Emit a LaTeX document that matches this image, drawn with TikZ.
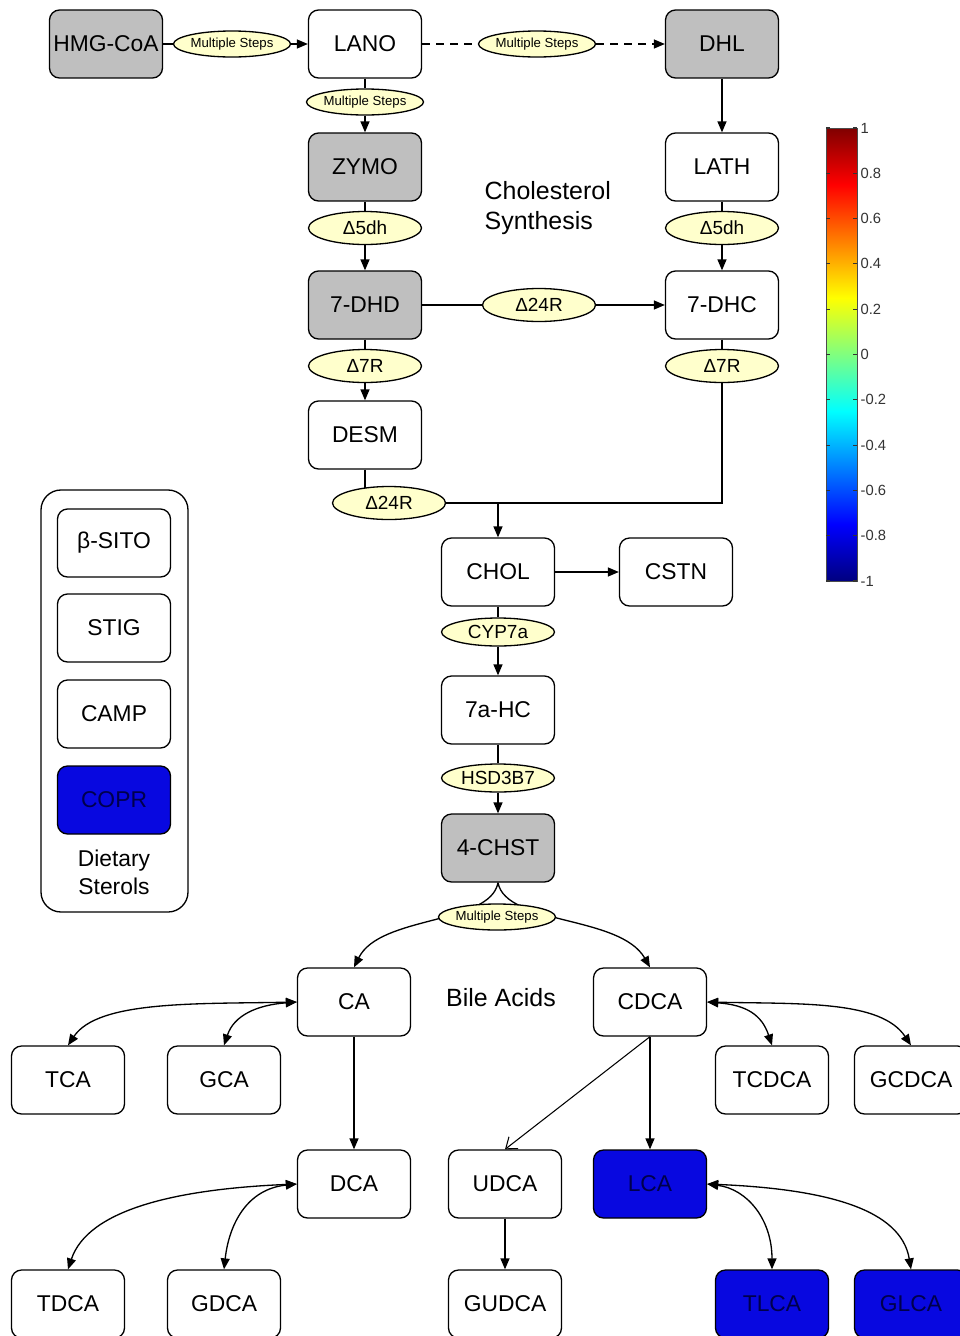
\documentclass[tikz,border=0pt]{standalone}
\usepackage{fontspec}
\setmainfont{Liberation Sans}
\usetikzlibrary{arrows.meta,shapes.geometric,backgrounds}
\definecolor{enzyme}{RGB}{255,255,204}
\definecolor{lowblue}{RGB}{8,8,224}
\pgfdeclareverticalshading{jet}{100bp}{rgb(0bp)=(0,0,0.5); rgb(25bp)=(0,0,0.5); rgb(31.25bp)=(0,0,1); rgb(43.75bp)=(0,1,1); rgb(56.25bp)=(1,1,0); rgb(68.75bp)=(1,0,0); rgb(75bp)=(0.5,0,0); rgb(100bp)=(0.5,0,0)}
\begin{document}
\begin{tikzpicture}[x=0.02cm,y=-0.02cm,line width=0.75pt,
  box/.style={draw,rounded corners=0.2cm,minimum width=2.26cm,minimum height=1.36cm,inner sep=0pt,font=\fontsize{13}{15}\selectfont},
  gbox/.style={box,fill=black!25},
  bbox/.style={box,fill=lowblue,text=blue!30!black},
  enz/.style={draw,ellipse,fill=enzyme,inner sep=0pt,minimum width=2.26cm,minimum height=0.66cm,font=\fontsize{10.8}{12}\selectfont},
  msteps/.style={enz,minimum width=2.24cm,minimum height=0.52cm,font=\fontsize{7.5}{9}\selectfont},
  arr/.style={-{Triangle[length=0.22cm,width=0.18cm]}},
  darr/.style={{Triangle[length=0.22cm,width=0.18cm]}-{Triangle[length=0.22cm,width=0.18cm]}},
  sectxt/.style={align=left,inner sep=0pt,font=\fontsize{14.2}{17.5}\selectfont}]
\useasboundingbox (0,0) rectangle (960,1336);
\clip (0,0) rectangle (960,1336);
\foreach \n/\x/\y/\t in {hmg/106/44/HMG-CoA,dhl/722/44/DHL,zymo/365/167/ZYMO,dhd/365/305/7-DHD,chst/498/848/4-CHST}
  \node[gbox] (\n) at (\x,\y) {\t};
\foreach \n/\x/\y/\t in {lano/365/44/LANO,lath/722/167/LATH,dhc/722/305/7-DHC,desm/365/435/DESM,chol/498/572/CHOL,cstn/676/572/CSTN,hc/498/710/7a-HC,
  ca/354/1002/CA,cdca/650/1002/CDCA,tca/68/1080/TCA,gca/224/1080/GCA,tcdca/772/1080/TCDCA,gcdca/911/1080/GCDCA,
  dca/354/1184/DCA,udca/505/1184/UDCA,tdca/68/1304/TDCA,gdca/224/1304/GDCA,gudca/505/1304/GUDCA,
  sito/114/543/β-SITO,stig/114/628/STIG,camp/114/714/CAMP}
  \node[box] (\n) at (\x,\y) {\t};
\foreach \n/\x/\y/\t in {lca/650/1184/LCA,tlca/772/1304/TLCA,glca/911/1304/GLCA,copr/114/800/COPR}
  \node[bbox] (\n) at (\x,\y) {\t};
\foreach \n/\x/\y/\t in {d5a/365/228/Δ5dh,d5b/722/228/Δ5dh,d24a/539/305/Δ24R,d7a/365/366/Δ7R,d7b/722/366/Δ7R,d24b/389/503/Δ24R}
  \node[enz] (\n) at (\x,\y) {\t};
\foreach \n/\x/\y/\t in {cyp/498/632/CYP7a,hsd/498/778/HSD3B7}
  \node[enz,minimum height=0.56cm] (\n) at (\x,\y) {\t};
\foreach \n/\x/\y in {ms1/232/44,ms2/537/44,ms0/365/102,ms3/497/917}
  \node[msteps] (\n) at (\x,\y) {Multiple Steps};
\node[sectxt,anchor=west] (chsyn) at (484,208) {Cholesterol\\Synthesis};
\node[sectxt] (bile) at (501,998) {Bile Acids};
\node[align=center,font=\fontsize{13}{16}\selectfont] (diet) at (114,872) {Dietary\\Sterols};
\draw[rounded corners=0.4cm] (41,490) rectangle (188,912);
\begin{scope}[on background layer]
\draw[line width=0.75pt] (desm) -- (desm |- d24b);
\draw[arr,line width=0.75pt] (chst.south) .. controls (490,925) and (380,915) .. (ca.north);
\draw[arr,line width=0.75pt] (chst.south) .. controls (506,925) and (620,915) .. (cdca.north);
\end{scope}
\draw (hmg) -- (ms1); \draw[arr] (ms1) -- (lano);
\draw[dash pattern=on 4.5pt off 3.5pt] (lano) -- (ms2); \draw[arr,dash pattern=on 4.5pt off 3.5pt] (ms2) -- (dhl);
\draw (lano) -- (ms0); \draw[arr] (ms0) -- (zymo);
\draw[arr] (dhl) -- (lath);
\draw (zymo) -- (d5a); \draw[arr] (d5a) -- (dhd);
\draw (lath) -- (d5b); \draw[arr] (d5b) -- (dhc);
\draw (dhd) -- (d24a); \draw[arr] (d24a) -- (dhc);
\draw (dhd) -- (d7a); \draw[arr] (d7a) -- (desm);
\draw (dhc) -- (d7b);
\draw (d24b) -- (d24b -| d7b) -- (d7b);
\draw[arr] (d24b -| chol) -- (chol);
\draw[arr] (chol) -- (cstn);
\draw (chol) -- (cyp); \draw[arr] (cyp) -- (hc);
\draw (hc) -- (hsd); \draw[arr] (hsd) -- (chst);
\draw[arr] (ca) -- (dca);
\draw[arr] (cdca) -- (lca);
\draw[-{Straight Barb[length=0.2cm,width=0.3cm]},line width=0.6pt] (cdca.south) -- (udca.north);
\draw[arr] (udca) -- (gudca);
\draw[darr] (ca.west) .. controls +(-100,2) and +(30,-45) .. (tca.north);
\draw[darr] (ca.west) .. controls +(-40,3) and +(10,-30) .. (gca.north);
\draw[darr] (dca.west) .. controls +(-120,5) and +(20,-60) .. (tdca.north);
\draw[darr] (dca.west) .. controls +(-50,5) and +(5,-45) .. (gdca.north);
\draw[darr] (cdca.east) .. controls +(40,3) and +(-10,-30) .. (tcdca.north);
\draw[darr] (cdca.east) .. controls +(95,2) and +(-30,-45) .. (gcdca.north);
\draw[darr] (lca.east) .. controls +(40,5) and +(0,-50) .. (tlca.north);
\draw[darr] (lca.east) .. controls +(120,5) and +(-10,-60) .. (glca.north);
\shade[shading=jet] (826,128) rectangle (857,581);
\draw[line width=0.4pt,black!70] (826,128) rectangle (857,581);
\foreach \l [count=\i from 0] in {1,0.8,0.6,0.4,0.2,0,-0.2,-0.4,-0.6,-0.8,-1}{
  \draw[line width=0.6pt,black!80] (826,128+\i*45.3) -- (830,128+\i*45.3) (853,128+\i*45.3) -- (857,128+\i*45.3);
  \node[anchor=west,inner sep=0pt,font=\fontsize{8.4}{10}\selectfont,black!80] (cb\i) at (860,128+\i*45.3) {\l};}
\end{tikzpicture}
\end{document}
